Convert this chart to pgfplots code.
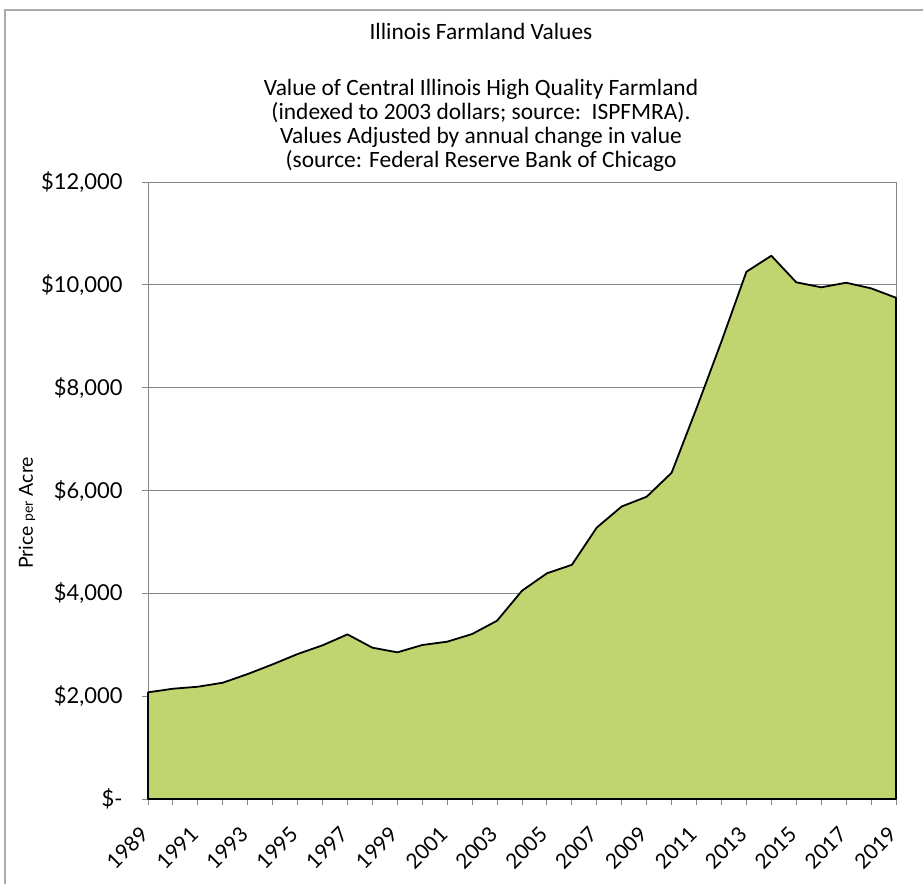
\documentclass[border=0pt]{standalone}
\usepackage{pgfplots}
\pgfplotsset{compat=1.18}
\usepackage{fontspec}
\setmainfont{Lato}
\newfontfamily\titlefont{Carlito}
\definecolor{areafill}{RGB}{192,212,112}
\definecolor{gridgray}{RGB}{134,134,134}
\definecolor{framegray}{RGB}{170,170,170}
\begin{document}
\begin{tikzpicture}[x=1bp,y=1bp]
\useasboundingbox (0,0) rectangle (923,-884);
\draw[color=framegray, line width=1.2bp] (5,-884) -- (5,-10) -- (923,-10);
\begin{axis}[
  at={(148bp,-799bp)}, anchor=south west,
  width=748bp, height=617bp, scale only axis,
  xmin=1989, xmax=2019, ymin=0, ymax=12000,
  clip=false,
  scaled y ticks=false, scaled x ticks=false,
  axis line style={color=gridgray, line width=1bp},
  ymajorgrids, grid style={color=gridgray, line width=0.9bp},
  tick align=outside,
  major tick length=6bp, minor tick length=6bp,
  tick style={color=gridgray, line width=0.9bp},
  xtick={1989,1991,1993,1995,1997,1999,2001,2003,2005,2007,2009,2011,2013,2015,2017,2019},
  minor xtick={1990,1992,1994,1996,1998,2000,2002,2004,2006,2008,2010,2012,2014,2016,2018},
  xticklabels={1989,1991,1993,1995,1997,1999,2001,2003,2005,2007,2009,2011,2013,2015,2017,2019},
  xtick pos=bottom, ytick pos=left,
  ytick={0,2000,4000,6000,8000,10000,12000},
  yticklabels={{\$-},{\$2,000},{\$4,000},{\$6,000},{\$8,000},{\$10,000},{\$12,000}},
  xticklabel style={xshift=-9bp, yshift=-20bp, rotate=45, anchor=north east, font=\fontsize{21}{21}\selectfont, inner sep=0bp},
  yticklabel style={font=\fontsize{22}{22}\selectfont, xshift=-16bp},
]
\addplot[fill=areafill, draw=black, line width=1.8bp, line join=round] coordinates {
(1989,2075) (1990,2145) (1991,2184) (1992,2262) (1993,2431) (1994,2619)
(1995,2820) (1996,2989) (1997,3202) (1998,2943) (1999,2853) (2000,2995)
(2001,3060) (2002,3209) (2003,3468) (2004,4051) (2005,4390) (2006,4555)
(2007,5280) (2008,5690) (2009,5879) (2010,6345) (2011,7600) (2012,8900)
(2013,10255) (2014,10566) (2015,10049) (2016,9952) (2017,10041) (2018,9932)
(2019,9749)} \closedcycle;
\end{axis}
\node[rotate=90, font=\fontsize{19.5}{19.5}\selectfont] at (27,-513) {Price {\fontsize{14}{14}\selectfont per} Acre};
\begin{scope}[every node/.style={anchor=base, font=\titlefont\fontsize{23.5}{23.5}\selectfont, inner sep=0pt}]
\node at (481,-39) {Illinois Farmland Values};
\node at (481,-95) {Value of Central Illinois High Quality Farmland};
\node at (481,-119) {(indexed to 2003 dollars; source:\ \ ISPFMRA).};
\node at (481,-143) {Values Adjusted by annual change in value};
\node at (481,-167) {(source: Federal Reserve Bank of Chicago};
\end{scope}
\end{tikzpicture}
\end{document}
